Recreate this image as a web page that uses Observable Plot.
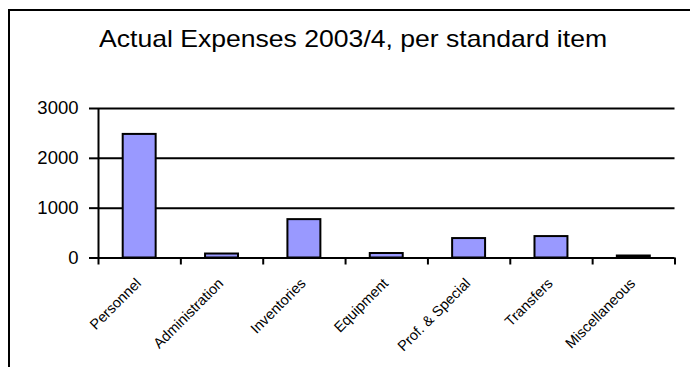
<!DOCTYPE html>
<html>
<head>
<meta charset="utf-8">
<script src="https://cdn.jsdelivr.net/npm/d3@7"></script>
<script src="https://cdn.jsdelivr.net/npm/@observablehq/plot@0.6"></script>
<style>
  html, body { margin: 0; padding: 0; background: #fff; }
  body { width: 690px; height: 367px; overflow: hidden; position: relative; font-family: Arial, "Liberation Sans", sans-serif; }
  #frame { position: absolute; left: 8px; top: 9px; width: 720px; height: 420px; border: 2px solid #000; box-sizing: border-box; }
  #title { position: absolute; left: 99px; top: 27px; font-size: 24px; line-height: 24px; white-space: nowrap; color: #000; transform: scaleX(1.107); transform-origin: left top; }
  #chart { position: absolute; left: 0; top: 0; }
</style>
</head>
<body>
<div id="frame"></div>
<div id="chart"></div>
<div id="title">Actual Expenses 2003/4, per standard item</div>
<script>
const categories = ["Personnel", "Administration", "Inventories", "Equipment", "Prof. & Special", "Transfers", "Miscellaneous"];
const values = [2480, 80, 770, 90, 390, 430, 40];
const yTicks = [0, 1000, 2000, 3000];
const gridValues = [1000, 2000, 3000];

const data = categories.map((name, i) => ({name, i, value: values[i]}));
const boundaries = categories.map((_, i) => i).concat([categories.length]);

const plot = Plot.plot({
  width: 690,
  height: 367,
  marginLeft: 98,
  marginRight: 15.5,
  marginTop: 108,
  marginBottom: 109.5,
  style: {fontFamily: "Arial, 'Liberation Sans', sans-serif", background: "transparent", color: "#000"},
  x: {type: "linear", domain: [0, categories.length], axis: null, label: null},
  y: {domain: [0, 3000], axis: null, label: null},
  marks: [
    Plot.ruleY(gridValues, {stroke: "#000", strokeWidth: 2}),
    Plot.rectY(data, {x1: "i", x2: d => d.i + 1, y: "value", fill: "#9999FF", stroke: "#000", strokeWidth: 2, insetLeft: 24.7, insetRight: 24.7}),
    Plot.ruleX([0], {stroke: "#000", strokeWidth: 2}),
    Plot.ruleY([0], {stroke: "#000", strokeWidth: 2}),
    Plot.axisY({ticks: yTicks, tickSize: 9, tickPadding: 11, fontSize: 18.5, strokeWidth: 2, stroke: "#000", label: null, tickFormat: d => String(d)}),
    Plot.axisX({ticks: boundaries, tickSize: 7, tickFormat: () => "", strokeWidth: 2, stroke: "#000", anchor: "bottom", label: null}),
    Plot.text(data, {x: d => d.i + 0.5, y: 0, text: "name", rotate: -45, textAnchor: "end", lineAnchor: "top", dx: -5, dy: 19, fontSize: 14.5, fill: "#000"})
  ]
});
document.getElementById("chart").appendChild(plot);
</script>
</body>
</html>
